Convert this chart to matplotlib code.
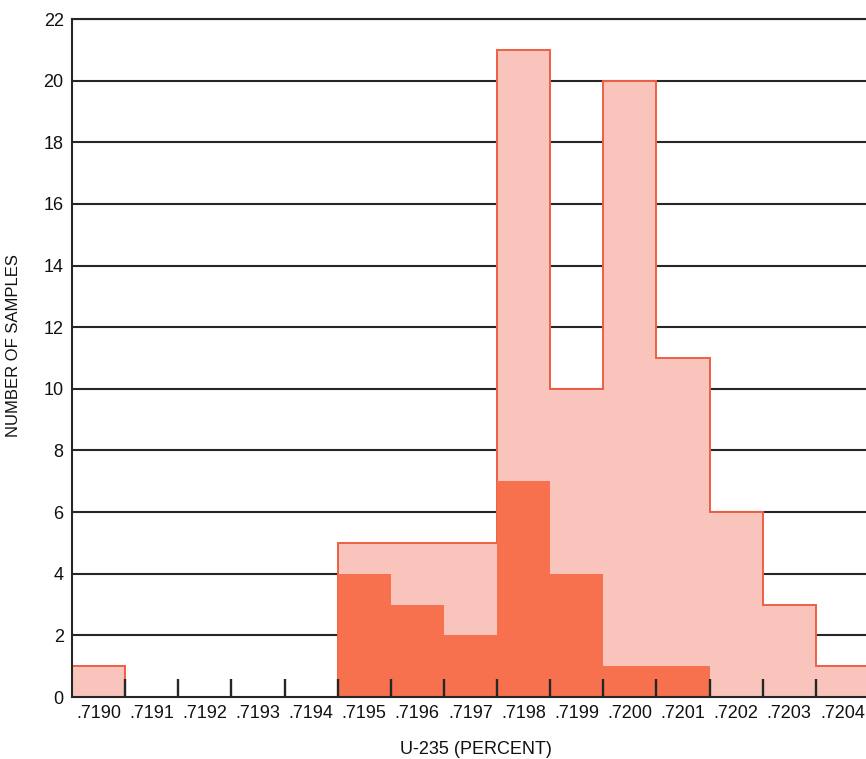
import matplotlib
matplotlib.use('Agg')
import matplotlib.pyplot as plt
import numpy as np

plt.rcParams.update({
    "font.family": "sans-serif",
    "font.sans-serif": ["Liberation Sans", "Arial", "DejaVu Sans"],
})

# U-235 content bins (percent) and sample counts
u235 = [0.7190, 0.7191, 0.7192, 0.7193, 0.7194, 0.7195, 0.7196, 0.7197,
        0.7198, 0.7199, 0.7200, 0.7201, 0.7202, 0.7203, 0.7204]
tick_labels = ['.7190', '.7191', '.7192', '.7193', '.7194', '.7195', '.7196', '.7197',
               '.7198', '.7199', '.7200', '.7201', '.7202', '.7203', '.7204']
all_samples = [1, 0, 0, 0, 0, 5, 5, 5, 21, 10, 20, 11, 6, 3, 1]
subset_samples = [0, 0, 0, 0, 0, 4, 3, 2, 7, 4, 1, 1, 0, 0, 0]
y_ticks = [0, 2, 4, 6, 8, 10, 12, 14, 16, 18, 20, 22]

LIGHT = '#f9c4bb'
EDGE = '#ef5f44'
DARK = '#f7714f'
INK = '#262626'

width = 0.0001
edges = np.append(np.array(u235) - width / 2, u235[-1] + width / 2)

fig = plt.figure(figsize=(8.66, 7.59), dpi=100)
ax = fig.add_axes([72 / 866, 62 / 759, 797 / 866, 678 / 759])

# grid lines sit behind the bars
for y in y_ticks[1:]:
    ax.axhline(y, color=INK, lw=1.5, zorder=0.5)

ax.stairs(all_samples, edges, fill=True, color=LIGHT, lw=0, zorder=1)
ax.stairs(all_samples, edges, color=EDGE, lw=1.4, zorder=1.1)
ax.stairs(subset_samples, edges, fill=True, color=DARK, lw=0, zorder=1.2)

ax.set_xlim(edges[0], edges[-1])
ax.set_ylim(0, 22)

# tick marks on bin edges, labels at bin centres
ax.set_xticks(edges[1:-1])
ax.set_xticklabels([])
ax.set_xticks(u235, minor=True)
ax.set_xticklabels(tick_labels, minor=True, fontsize=13)
ax.tick_params(axis='x', which='major', direction='in', length=13, width=1.7, color=INK)
ax.tick_params(axis='x', which='minor', length=0, pad=6, labelcolor='#111111')
ax.set_yticks(y_ticks)
ax.tick_params(axis='y', length=0, pad=6, labelsize=13, labelcolor='#111111')

ax.spines['right'].set_visible(False)
for side in ['left', 'bottom', 'top']:
    ax.spines[side].set_color(INK)
    ax.spines[side].set_linewidth(1.5)
    ax.spines[side].set_zorder(2)

fig.text(476 / 866, 1 - 750 / 759, 'U-235 (PERCENT)', fontsize=13,
         ha='center', va='center', color='#111111')
fig.text(14 / 866, 1 - 346 / 759, 'NUMBER OF SAMPLES', fontsize=12, rotation=90,
         ha='center', va='center', color='#111111')

fig.savefig('out.png', dpi=100, facecolor='white')
